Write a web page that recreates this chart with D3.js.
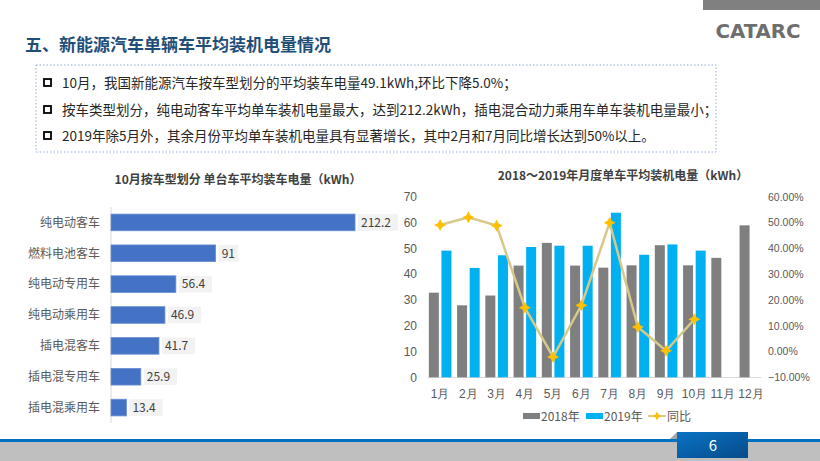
<!DOCTYPE html>
<html><head><meta charset="utf-8">
<script src="https://cdn.jsdelivr.net/npm/d3@7"></script>
<style>
html,body{margin:0;padding:0;background:#fff;}
svg{display:block;font-family:"Noto Sans CJK SC","Noto Sans",sans-serif;}
</style></head>
<body><svg id="c" width="820" height="461"></svg>
<script>
// ---------- data ----------
const pageTitle = "五、新能源汽车单辆车平均装机电量情况";
const bullets = [
  "10月，我国新能源汽车按车型划分的平均装车电量49.1kWh,环比下降5.0%；",
  "按车类型划分，纯电动客车平均单车装机电量最大，达到212.2kWh，插电混合动力乘用车单车装机电量最小；",
  "2019年除5月外，其余月份平均单车装机电量具有显著增长，其中2月和7月同比增长达到50%以上。"
];
const leftTitle = "10月按车型划分 单台车平均装车电量（kWh）";
const vehicleTypes = ["纯电动客车","燃料电池客车","纯电动专用车","纯电动乘用车","插电混客车","插电混专用车","插电混乘用车"];
const vehicleValues = [212.2, 91, 56.4, 46.9, 41.7, 25.9, 13.4];

const rightTitle = "2018～2019年月度单车平均装机电量（kWh）";
const months = ["1月","2月","3月","4月","5月","6月","7月","8月","9月","10月","11月","12月"];
const values2018 = [32.8, 27.9, 31.7, 43.3, 52.1, 43.3, 42.5, 43.4, 51.2, 43.4, 46.3, 58.9];
const values2019 = [49.1, 42.4, 47.3, 50.5, 51.0, 51.0, 63.8, 47.5, 51.5, 49.1, null, null];
const yoy = [0.490, 0.520, 0.488, 0.170, -0.021, 0.179, 0.499, 0.095, 0.003, 0.125, null, null];
const leftTicks = [0,10,20,30,40,50,60,70];
const rightTicks = [-0.1,0,0.1,0.2,0.3,0.4,0.5,0.6];
const seriesNames = ["2018年","2019年","同比"];
const pageNumber = "6";

// ---------- drawing ----------
const svg = d3.select("#c");
const defs = svg.append("defs");

// 4-point star marker symbol
const star4 = {draw(ctx, size){
  const r = Math.sqrt(size)*0.75, q = r*0.35;
  ctx.moveTo(0,-r); ctx.lineTo(q,-q); ctx.lineTo(r,0); ctx.lineTo(q,q);
  ctx.lineTo(0,r); ctx.lineTo(-q,q); ctx.lineTo(-r,0); ctx.lineTo(-q,-q); ctx.closePath();
}};

// top-right gray bar + logo
svg.append("rect").attr("x",703).attr("y",0).attr("width",117).attr("height",10).attr("fill","#808080");
svg.append("text").attr("x",758).attr("y",38).attr("text-anchor","middle")
  .attr("font-family","Liberation Sans Narrow, DejaVu Sans Condensed, sans-serif")
  .attr("font-weight","bold").attr("font-size",20).attr("fill","#6e6e6e")
  .attr("textLength",85).attr("lengthAdjust","spacingAndGlyphs").text("CATARC");

// page title
svg.append("text").attr("x",25).attr("y",51).attr("font-size",17).attr("font-weight","bold")
  .attr("fill","#1f4e79").text(pageTitle);

// bullet box
svg.append("rect").attr("x",36).attr("y",65).attr("width",680).attr("height",87)
  .attr("fill","none").attr("stroke","#8eaadb").attr("stroke-width",1).attr("stroke-dasharray","1.5,2");
const bulletY = [83, 110, 136];
bullets.forEach((t,i)=>{
  svg.append("rect").attr("x",44).attr("y",bulletY[i]-4).attr("width",7).attr("height",7)
    .attr("fill","none").attr("stroke","#000").attr("stroke-width",1.8);
  svg.append("text").attr("x",62).attr("y",bulletY[i]+4.5).attr("font-size",13.5).attr("fill","#262626").text(t);
});

// ---------- left chart ----------
svg.append("text").attr("x",238).attr("y",184).attr("text-anchor","middle").attr("font-size",12)
  .attr("font-weight","bold").attr("fill","#404040").text(leftTitle);

const yL = d3.scaleBand().domain(vehicleTypes).range([207,423]).paddingInner(0.46).paddingOuter(0.23);
const xL = d3.scaleLinear().domain([0,250]).range([111, 111+250*1.15]);
svg.append("line").attr("x1",111).attr("x2",111).attr("y1",207).attr("y2",423).attr("stroke","#d9d9d9");
const gL = svg.append("g");
vehicleTypes.forEach((c,i)=>{
  const y = yL(c), h = yL.bandwidth(), v = vehicleValues[i];
  gL.append("rect").attr("x",xL(0)).attr("y",y).attr("width",xL(v)-xL(0)).attr("height",h)
    .attr("fill","#4472c4").attr("stroke","#6a8fd3").attr("stroke-width",0.8);
  const lbl = String(v);
  const tw = lbl.length*6.8+6;
  gL.append("rect").attr("x",xL(v)+3).attr("y",y).attr("width",tw).attr("height",h).attr("fill","#f2f2f2");
  gL.append("text").attr("x",xL(v)+6).attr("y",y+h/2+4.3).attr("font-size",12).attr("fill","#404040").text(lbl);
  gL.append("text").attr("x",100).attr("y",y+h/2+4.3).attr("text-anchor","end").attr("font-size",12)
    .attr("fill","#595959").text(c);
});

// ---------- right chart ----------
svg.append("text").attr("x",623).attr("y",180).attr("text-anchor","middle").attr("font-size",12)
  .attr("font-weight","bold").attr("fill","#404040").text(rightTitle);

const x0 = d3.scaleBand().domain(months).range([426,765]);
const x1 = d3.scaleBand().domain(["a","b"]).range([0,x0.bandwidth()]).paddingInner(0.206).paddingOuter(0.225);
const yR = d3.scaleLinear().domain([0,70]).range([377.3,196.7]);
const yP = d3.scaleLinear().domain([-0.1,0.6]).range([377.3,196.7]);

const axL = svg.append("g").attr("transform","translate(417,0)")
  .call(d3.axisLeft(yR).tickValues(leftTicks).tickSize(0).tickPadding(0));
axL.select(".domain").remove();
axL.selectAll("text").attr("font-size",12).attr("fill","#595959").attr("font-family",null);

const axR = svg.append("g").attr("transform","translate(768,0)")
  .call(d3.axisRight(yP).tickValues(rightTicks).tickSize(0).tickPadding(0).tickFormat(d3.format(".2%")));
axR.select(".domain").remove();
axR.selectAll("text").attr("font-size",10.5).attr("fill","#595959").attr("font-family",null);

svg.append("line").attr("x1",428).attr("x2",761).attr("y1",377.5).attr("y2",377.5).attr("stroke","#d9d9d9");

const axX = svg.append("g").attr("transform","translate(0,388)")
  .call(d3.axisBottom(x0).tickSize(0).tickPadding(0));
axX.select(".domain").remove();
axX.selectAll("text").attr("font-size",12).attr("fill","#595959").attr("font-family",null).attr("dy","0.85em");

const gB = svg.append("g");
months.forEach((m,i)=>{
  if (values2018[i]!=null)
    gB.append("rect").attr("x",x0(m)+x1("a")).attr("width",x1.bandwidth())
      .attr("y",yR(values2018[i])).attr("height",yR(0)-yR(values2018[i])).attr("fill","#7f7f7f");
  if (values2019[i]!=null)
    gB.append("rect").attr("x",x0(m)+x1("b")).attr("width",x1.bandwidth())
      .attr("y",yR(values2019[i])).attr("height",yR(0)-yR(values2019[i])).attr("fill","#00b0f0");
});

const pts = months.map((m,i)=>({m, v:yoy[i]})).filter(d=>d.v!=null);
svg.append("path").datum(pts)
  .attr("d", d3.line().x(d=>x0(d.m)+x0.bandwidth()/2).y(d=>yP(d.v)))
  .attr("fill","none").attr("stroke","#d8c88a").attr("stroke-width",2.5);
svg.selectAll(".mk").data(pts).enter().append("path")
  .attr("transform",d=>`translate(${x0(d.m)+x0.bandwidth()/2},${yP(d.v)})`)
  .attr("d", d3.symbol().type(star4).size(64)).attr("fill","#ffc000");

// legend
const lg = svg.append("g");
lg.append("rect").attr("x",523).attr("y",413).attr("width",17).attr("height",6).attr("fill","#7f7f7f");
lg.append("text").attr("x",541).attr("y",420.5).attr("font-size",12).attr("fill","#595959").text(seriesNames[0]);
lg.append("rect").attr("x",586).attr("y",413).attr("width",17).attr("height",6).attr("fill","#00b0f0");
lg.append("text").attr("x",604).attr("y",420.5).attr("font-size",12).attr("fill","#595959").text(seriesNames[1]);
lg.append("line").attr("x1",648).attr("x2",666).attr("y1",416).attr("y2",416).attr("stroke","#d8c88a").attr("stroke-width",2);
lg.append("path").attr("transform","translate(657,416)").attr("d",d3.symbol().type(star4).size(36)).attr("fill","#ffc000");
lg.append("text").attr("x",667).attr("y",420.5).attr("font-size",12).attr("fill","#595959").text(seriesNames[2]);

// ---------- footer ----------
svg.append("rect").attr("x",0).attr("y",442).attr("width",820).attr("height",19).attr("fill","#bfbfbf");
svg.append("rect").attr("x",0).attr("y",439).attr("width",820).attr("height",3).attr("fill","#0070c0");
const gr = defs.append("linearGradient").attr("id","pg").attr("x1","0").attr("x2","1").attr("y1","0").attr("y2","1");
gr.append("stop").attr("offset","0").attr("stop-color","#0a74c4");
gr.append("stop").attr("offset","1").attr("stop-color","#064a8a");
svg.append("path").attr("d","M670,439 L677,432 L677,439 Z").attr("fill","#a6a6a6");
svg.append("rect").attr("x",677).attr("y",432).attr("width",71).attr("height",26).attr("fill","url(#pg)");
svg.append("text").attr("x",713).attr("y",451).attr("text-anchor","middle").attr("font-size",15)
  .attr("fill","#fff").text(pageNumber);
</script></body></html>
